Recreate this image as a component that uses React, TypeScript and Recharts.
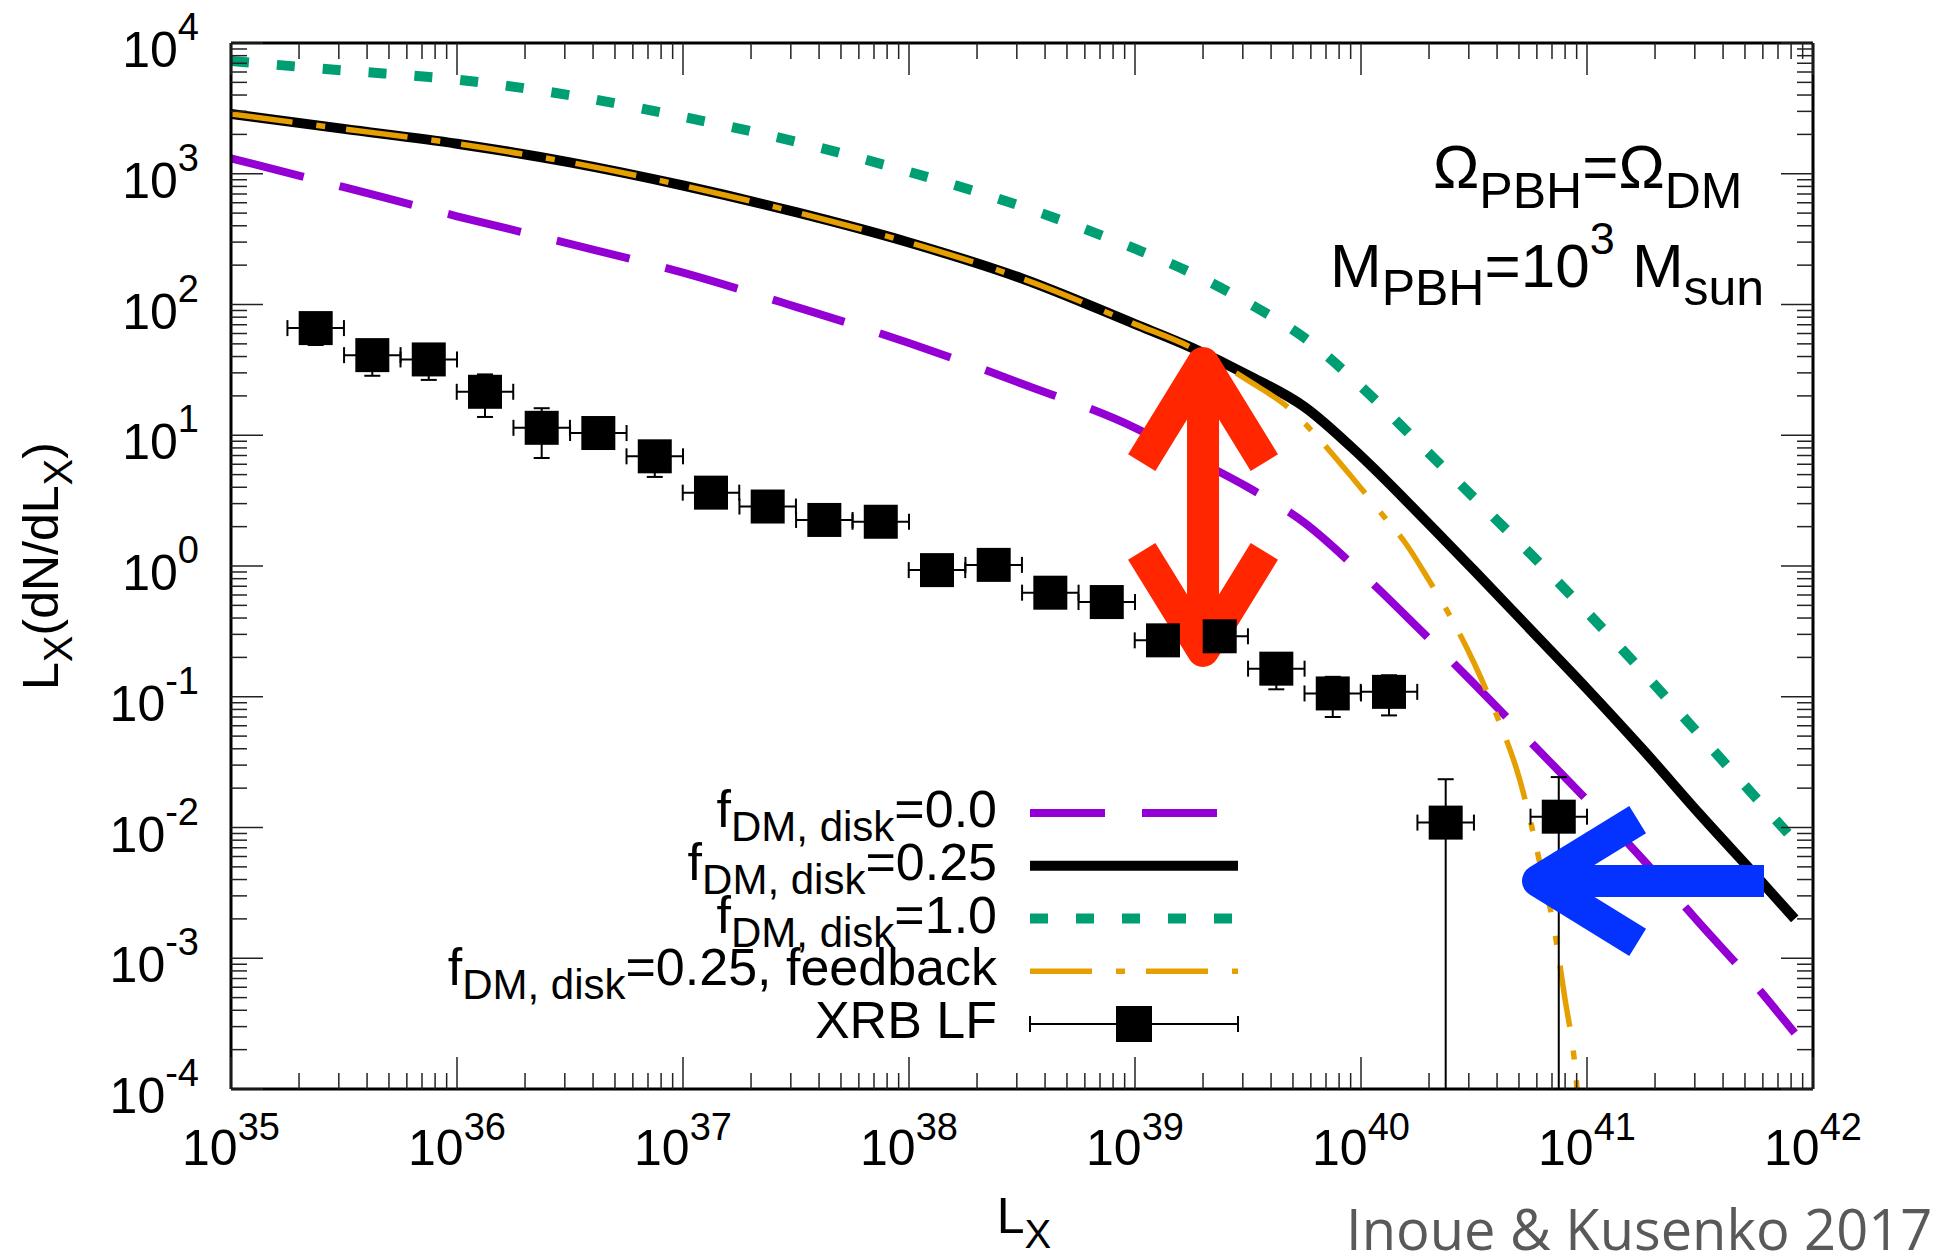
import React from "react";
import {
  ComposedChart,
  Line,
  Scatter,
  XAxis,
  YAxis,
  ErrorBar,
  ReferenceLine,
} from "recharts";

const FONT = '"Liberation Sans", Arial, Helvetica, sans-serif';

// model luminosity grid (erg/s)
const lxGrid = [
  1e35, 3.16e35, 1e36, 3.16e36, 1e37, 3.16e37, 1e38, 3.16e38, 1e39, 1.78e39,
  3.16e39, 5.62e39, 1e40, 1.78e40, 3.16e40, 5.62e40, 1e41, 1.78e41, 3.16e41,
  5.62e41, 8.3e41,
];
const fDisk00 = [
  1312, 789, 473, 291, 175, 96, 50.8, 24.8, 11.4, 6.76, 4.0, 2.14, 0.89, 0.339,
  0.126, 0.0452, 0.0162, 0.00562, 0.00184, 0.000608, 0.000268,
];
const fDisk025 = [
  2864, 2203, 1698, 1222, 813, 508, 298, 158, 70.8, 46.8, 28.8, 16.5, 6.92,
  2.57, 0.927, 0.327, 0.115, 0.0389, 0.0126, 0.00424, 0.002,
];
const fDisk10 = [
  7278, 6166, 5248, 3981, 2723, 1758, 1035, 562, 267, 174, 103, 55.6, 23.6,
  8.87, 3.33, 1.24, 0.444, 0.153, 0.0507, 0.0167, 0.0079,
];

// feedback run needs a denser grid where it drops off
const lxFeedback = [
  1e35, 3.16e35, 1e36, 3.16e36, 1e37, 3.16e37, 1e38, 3.16e38, 1e39, 1.78e39,
  3.16e39, 5.01e39, 6.31e39, 8.91e39, 1.26e40, 1.58e40, 2.0e40, 2.51e40,
  3.16e40, 3.98e40, 5.01e40, 5.62e40, 6.31e40, 7.08e40, 7.94e40, 8.91e40,
  9.33e40,
];
const fDisk025Feedback = [
  2864, 2203, 1698, 1222, 813, 508, 298, 158, 70.8, 46.8, 26.3, 15.1, 10.0,
  5.01, 2.4, 1.48, 0.776, 0.398, 0.182, 0.0724, 0.024, 0.0112, 0.00457,
  0.00186, 0.000525, 0.000132, 0.00005,
];

// XRB luminosity function, bin centres and values
const xrbLx = [
  2.37e35, 4.22e35, 7.5e35, 1.33e36, 2.37e36, 4.22e36, 7.5e36, 1.33e37,
  2.37e37, 4.22e37, 7.5e37, 1.33e38, 2.37e38, 4.22e38, 7.5e38, 1.33e39,
  2.37e39, 4.22e39, 7.5e39, 1.33e40, 2.37e40, 7.5e40,
];
const xrbValue = [
  66, 41, 38, 21.5, 11.4, 10.4, 6.9, 3.64, 2.85, 2.25, 2.18, 0.93, 1.02, 0.625,
  0.53, 0.27, 0.29, 0.164, 0.106, 0.109, 0.0109, 0.0121,
];
const xrbError = [
  17, 12.5, 11.5, 7.7, 4.7, 2.5, 2.1, 0.8, 0.5, 0.4, 0.35, 0.15, 0.15, 0.1,
  0.08, 0.05, 0.05, 0.05, 0.036, 0.037, 0.0125, 0.0122,
];
const BIN_HALF_DEX = 0.125;

const X_MIN = 1e35;
const X_MAX = 1e42;
const Y_MIN = 1e-4;
const Y_MAX = 1e4;

const xMajor = [1e35, 1e36, 1e37, 1e38, 1e39, 1e40, 1e41, 1e42];
const yMajor = [1e-4, 1e-3, 1e-2, 1e-1, 1, 1e1, 1e2, 1e3, 1e4];

const withMinors = (majors: number[]) => {
  const out: number[] = [];
  majors.forEach((m, i) => {
    out.push(m);
    if (i < majors.length - 1) for (let k = 2; k <= 9; k++) out.push(k * m);
  });
  return out;
};
const xTicks = withMinors(xMajor);
const yTicks = withMinors(yMajor);

const toSeries = (xs: number[], ys: number[]) =>
  xs.map((L, i) => ({ L, v: ys[i] }));

const xrbData = xrbLx.map((L, i) => {
  const f = Math.pow(10, BIN_HALF_DEX);
  const v = xrbValue[i];
  const e = xrbError[i];
  return {
    L,
    v,
    xErr: [L - L / f, L * f - L],
    // lower bar stops at the axis floor when the error reaches zero
    yErr: [Math.min(e, v - Y_MIN), e],
  };
});

const styles = {
  f00: { stroke: "#9400d3", strokeWidth: 8, strokeDasharray: "75 37" },
  f025: { stroke: "#000000", strokeWidth: 10, strokeDasharray: undefined },
  f10: { stroke: "#009e73", strokeWidth: 10, strokeDasharray: "18 28" },
  fb: { stroke: "#e69f00", strokeWidth: 5.5, strokeDasharray: "62 24 9 21" },
};

// annotation arrows, in data coordinates
const gapArrow = { L: 2e39, top: 35.7, bottom: 0.224 };
const limitArrow = { from: 6.07e41, to: 6.07e40, v: 0.0039 };

const isMajor = (v: number) =>
  Math.abs(Math.log10(v) - Math.round(Math.log10(v))) < 1e-6;
const expOf = (v: number) => String(Math.round(Math.log10(v)));

const TICK = { stroke: "#222", strokeWidth: 1.5 };

const BottomTick = ({ x, y, payload }: any) => {
  const major = isMajor(payload.value);
  return (
    <g>
      <line x1={x} y1={y} x2={x} y2={y - (major ? 32 : 16)} {...TICK} />
      {major && (
        <text x={x} y={y + 76} textAnchor="middle" fontFamily={FONT} fontSize={50} fill="#000">
          10
          <tspan dy={-25} fontSize={38}>
            {expOf(payload.value)}
          </tspan>
        </text>
      )}
    </g>
  );
};

const TopTick = ({ x, y, payload }: any) => {
  const major = isMajor(payload.value);
  return <line x1={x} y1={y} x2={x} y2={y + (major ? 32 : 16)} {...TICK} />;
};

const LeftTick = ({ x, y, payload }: any) => {
  const major = isMajor(payload.value);
  return (
    <g>
      <line x1={x} y1={y} x2={x + (major ? 32 : 16)} y2={y} {...TICK} />
      {major && (
        <text x={x - 32} y={y + 24} textAnchor="end" fontFamily={FONT} fontSize={50} fill="#000">
          10
          <tspan dy={-27} fontSize={38}>
            {expOf(payload.value)}
          </tspan>
        </text>
      )}
    </g>
  );
};

const RightTick = ({ x, y, payload }: any) => {
  const major = isMajor(payload.value);
  return <line x1={x} y1={y} x2={x - (major ? 32 : 16)} y2={y} {...TICK} />;
};

const Square = (p: any) => (
  <rect x={p.cx - 17} y={p.cy - 17} width={34} height={34} fill="#000" />
);

const ARM = 117;
const HALF = (31.6 * Math.PI) / 180;

const chevron = (tx: number, ty: number, fx: number, fy: number) => {
  const a = Math.atan2(fy - ty, fx - tx);
  const ax = tx + ARM * Math.cos(a - HALF);
  const ay = ty + ARM * Math.sin(a - HALF);
  const bx = tx + ARM * Math.cos(a + HALF);
  const by = ty + ARM * Math.sin(a + HALF);
  return `M${ax},${ay}L${tx},${ty}L${bx},${by}`;
};

const Arrow = ({ x1, y1, x2, y2, color, both }: any) => (
  <g fill="none" stroke={color} strokeWidth={32}>
    <path d={`M${x1},${y1}L${x2},${y2}`} />
    <path d={chevron(x2, y2, x1, y1)} strokeLinejoin="round" />
    {both && <path d={chevron(x1, y1, x2, y2)} strokeLinejoin="round" />}
  </g>
);

const keyRows = [
  { label: ["f", "DM, disk", "=0.0"], style: styles.f00 },
  { label: ["f", "DM, disk", "=0.25"], style: styles.f025 },
  { label: ["f", "DM, disk", "=1.0"], style: styles.f10 },
  { label: ["f", "DM, disk", "=0.25, feedback"], style: styles.fb },
  { label: ["XRB LF", "", ""], style: null },
];

const Key = () => {
  const x0 = 1030;
  const x1 = 1238;
  return (
    <g fontFamily={FONT} fill="#000">
      {keyRows.map((r, i) => {
        const y = 813 + i * 52.75;
        return (
          <g key={i}>
            <text x={997} y={y + 14} textAnchor="end" fontSize={52}>
              {r.label[0]}
              {r.label[1] && (
                <tspan dy={14} fontSize={42}>
                  {r.label[1]}
                </tspan>
              )}
              {r.label[2] && <tspan dy={-14}>{r.label[2]}</tspan>}
            </text>
            {r.style ? (
              <line
                x1={x0}
                x2={x1}
                y1={y}
                y2={y}
                stroke={r.style.stroke}
                strokeWidth={r.style.strokeWidth}
                strokeDasharray={r.style.strokeDasharray}
              />
            ) : (
              <g stroke="#000" strokeWidth={2}>
                <line x1={x0} x2={x1} y1={y} y2={y} />
                <line x1={x0} x2={x0} y1={y - 8} y2={y + 8} />
                <line x1={x1} x2={x1} y1={y - 8} y2={y + 8} />
                <rect x={(x0 + x1) / 2 - 17} y={y - 17} width={34} height={34} fill="#000" />
              </g>
            )}
          </g>
        );
      })}
    </g>
  );
};

export default function App() {
  return (
    <div style={{ position: "fixed", left: 0, top: 0, width: 1949, height: 1259, background: "#fff" }}>
      <ComposedChart
        width={1949}
        height={1259}
        margin={{ top: 42, right: 135, bottom: 0, left: 0 }}
      >
        <XAxis
          dataKey="L"
          type="number"
          scale="log"
          domain={[X_MIN, X_MAX]}
          allowDataOverflow
          ticks={xTicks}
          interval={0}
          tick={BottomTick}
          tickLine={false}
          tickSize={0}
          tickMargin={0}
          height={170}
          axisLine={{ stroke: "#000", strokeWidth: 3 }}
        />
        <XAxis
          xAxisId="top"
          orientation="top"
          dataKey="L"
          type="number"
          scale="log"
          domain={[X_MIN, X_MAX]}
          allowDataOverflow
          ticks={xTicks}
          interval={0}
          tick={TopTick}
          tickLine={false}
          tickSize={0}
          tickMargin={0}
          height={1}
          axisLine={{ stroke: "#000", strokeWidth: 3 }}
        />
        <YAxis
          dataKey="v"
          type="number"
          scale="log"
          domain={[Y_MIN, Y_MAX]}
          allowDataOverflow
          ticks={yTicks}
          interval={0}
          tick={LeftTick}
          tickLine={false}
          tickSize={0}
          tickMargin={0}
          width={231}
          axisLine={{ stroke: "#000", strokeWidth: 3 }}
        />
        <YAxis
          yAxisId="right"
          orientation="right"
          dataKey="v"
          type="number"
          scale="log"
          domain={[Y_MIN, Y_MAX]}
          allowDataOverflow
          ticks={yTicks}
          interval={0}
          tick={RightTick}
          tickLine={false}
          tickSize={0}
          tickMargin={0}
          width={1}
          axisLine={{ stroke: "#000", strokeWidth: 3 }}
        />

        <Line data={toSeries(lxGrid, fDisk00)} dataKey="v" type="monotone" dot={false} activeDot={false} isAnimationActive={false} {...styles.f00} />
        <Line data={toSeries(lxGrid, fDisk025)} dataKey="v" type="monotone" dot={false} activeDot={false} isAnimationActive={false} {...styles.f025} />
        <Line data={toSeries(lxGrid, fDisk10)} dataKey="v" type="monotone" dot={false} activeDot={false} isAnimationActive={false} {...styles.f10} />
        <Line data={toSeries(lxFeedback, fDisk025Feedback)} dataKey="v" type="monotone" dot={false} activeDot={false} isAnimationActive={false} {...styles.fb} />

        <Scatter data={xrbData} dataKey="v" shape={Square} isAnimationActive={false}>
          <ErrorBar dataKey="xErr" direction="x" width={8} strokeWidth={2} stroke="#000" isAnimationActive={false} />
          <ErrorBar dataKey="yErr" direction="y" width={8} strokeWidth={2} stroke="#000" isAnimationActive={false} />
        </Scatter>

        <ReferenceLine
          segment={[
            { x: gapArrow.L, y: gapArrow.top },
            { x: gapArrow.L, y: gapArrow.bottom },
          ]}
          ifOverflow="visible"
          shape={(p: any) => <Arrow {...p} color="#ff2600" both />}
        />
        <ReferenceLine
          segment={[
            { x: limitArrow.from, y: limitArrow.v },
            { x: limitArrow.to, y: limitArrow.v },
          ]}
          ifOverflow="visible"
          shape={(p: any) => <Arrow {...p} color="#0433ff" />}
        />

        <Key />

        <g fontFamily={FONT} fill="#000">
          <text x={1433} y={188} fontSize={62}>
            Ω<tspan dy={20} fontSize={50}>PBH</tspan>
            <tspan dy={-20}>=Ω</tspan>
            <tspan dy={20} fontSize={50}>DM</tspan>
          </text>
          <text x={1330} y={287} fontSize={62}>
            M<tspan dy={18} fontSize={50}>PBH</tspan>
            <tspan dy={-18}>=10</tspan>
            <tspan dy={-33} fontSize={45}>3</tspan>
            <tspan dy={33}> M</tspan>
            <tspan dy={18} fontSize={50}>sun</tspan>
          </text>
          <text x={1024} y={1233} textAnchor="middle" fontSize={50}>
            L<tspan dy={15} fontSize={40}>X</tspan>
          </text>
          <text transform="translate(58 566) rotate(-90)" textAnchor="middle" fontSize={50}>
            L<tspan dy={14} fontSize={40}>X</tspan>
            <tspan dy={-14}>(dN/dL</tspan>
            <tspan dy={14} fontSize={40}>X</tspan>
            <tspan dy={-14}>)</tspan>
          </text>
        </g>
        <text x={1346} y={1250} fontFamily='"Open Sans", sans-serif' fontSize={56} fill="#595959">
          Inoue &amp; Kusenko 2017
        </text>
      </ComposedChart>
    </div>
  );
}
